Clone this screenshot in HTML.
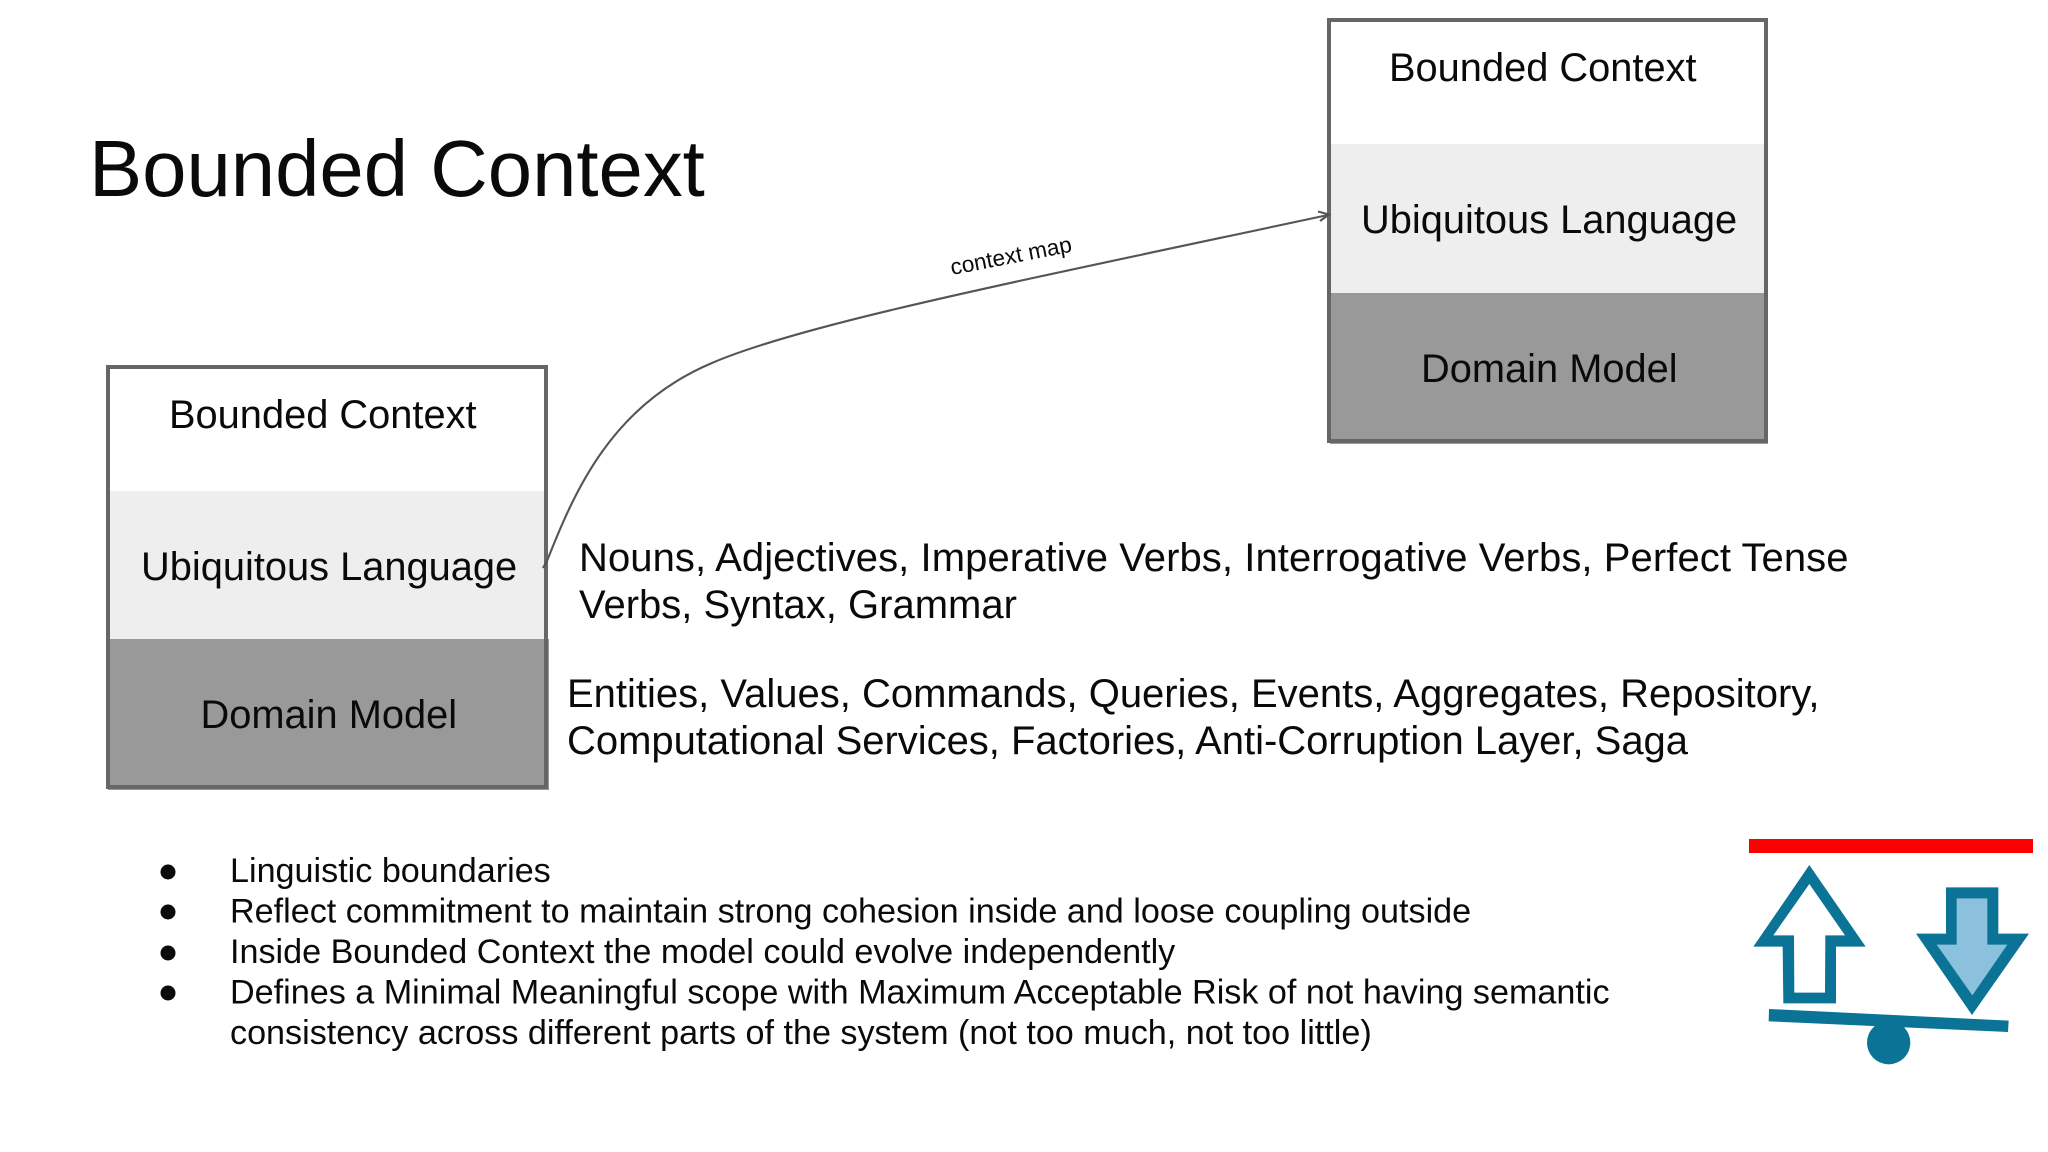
<!DOCTYPE html>
<html><head><meta charset="utf-8"><style>
html,body{margin:0;padding:0;background:#fff;width:2048px;height:1152px;overflow:hidden}
svg{display:block}
text{font-family:"Liberation Sans",sans-serif;fill:#0a0a0a;white-space:pre}
.h{font-size:79.7px}.b{font-size:39.8px}.d{font-size:40px}.s{font-size:34.15px}
</style></head><body>
<svg width="2048" height="1152" viewBox="0 0 2048 1152" xmlns="http://www.w3.org/2000/svg">
<rect width="2048" height="1152" fill="#fff"/>
<text class="h" x="89" y="196">Bounded Context</text>

<!-- left box -->
<rect x="108" y="367" width="438" height="420" fill="#fff"/>
<rect x="108" y="491" width="438" height="148" fill="#eee"/>
<rect x="108" y="639" width="441" height="151" fill="#999"/>
<rect x="108" y="367" width="438" height="420" fill="none" stroke="#666" stroke-width="4"/>
<text class="b" x="169" y="428">Bounded Context</text>
<text class="b" x="141" y="580">Ubiquitous Language</text>
<text class="b" x="200.500" y="728">Domain Model</text>

<!-- right box -->
<rect x="1329" y="20" width="437" height="421" fill="#fff"/>
<rect x="1330" y="144" width="436" height="149" fill="#eee"/>
<rect x="1330" y="293" width="438" height="151" fill="#999"/>
<rect x="1329" y="20" width="437" height="421" fill="none" stroke="#666" stroke-width="4"/>
<text class="b" x="1389" y="81">Bounded Context</text>
<text class="b" x="1361" y="233">Ubiquitous Language</text>
<text class="b" x="1421" y="382">Domain Model</text>

<!-- connector -->
<path d="M543 568L547 561C575 490 612 405 712 363C800 325 1000 285 1328 215" fill="none" stroke="#555" stroke-width="2.1"/>
<path d="M1318 211.500L1329 214.500L1320 221" fill="none" stroke="#555" stroke-width="2.1"/>
<text x="952" y="275" font-size="22.6" transform="rotate(-11 952 275)">context map</text>

<!-- descriptions -->
<text class="d" x="579" y="571" textLength="1269.500">Nouns, Adjectives, Imperative Verbs, Interrogative Verbs, Perfect Tense</text>
<text class="d" x="579" y="618">Verbs, Syntax, Grammar</text>
<text class="d" x="567" y="707">Entities, Values, Commands, Queries, Events, Aggregates, Repository,</text>
<text class="d" x="567" y="754" textLength="1121">Computational Services, Factories, Anti-Corruption Layer, Saga</text>

<!-- bullets -->
<circle cx="168" cy="872" r="7.5" fill="#0a0a0a"/>
<circle cx="168" cy="912" r="7.5" fill="#0a0a0a"/>
<circle cx="168" cy="953" r="7.5" fill="#0a0a0a"/>
<circle cx="168" cy="993" r="7.5" fill="#0a0a0a"/>
<text class="s" x="230" y="882">Linguistic boundaries</text>
<text class="s" x="230" y="922.500">Reflect commitment to maintain strong cohesion inside and loose coupling outside</text>
<text class="s" x="230" y="963">Inside Bounded Context the model could evolve independently</text>
<text class="s" x="230" y="1003.500">Defines a Minimal Meaningful scope with Maximum Acceptable Risk of not having semantic</text>
<text class="s" x="230" y="1044">consistency across different parts of the system (not too much, not too little)</text>

<!-- balance icon -->
<rect x="1749" y="839" width="284" height="14" fill="#f00"/>
<g transform="translate(1700 820) scale(.33333)">
<polygon points="328,135 497,380 408,380 408,550 250,550 248,380 160,380" fill="#0a7396"/>
<polygon points="328,192 435,346 376,346 375,518 283,518 282,346 220,346" fill="#fff"/>
<polygon points="738,202 895,202 895,341 987,341 816,585 648,341 738,341" fill="#0a7396"/>
<polygon points="770,235 862,235 862,374 922,374 817,526 710,374 770,374" fill="#8bc1dd"/>
<circle cx="566" cy="668" r="65" fill="#0a7396"/>
<polygon points="207,567 926,602 924,636 206,604" fill="#0a7396"/>
</g>
</svg>
</body></html>
